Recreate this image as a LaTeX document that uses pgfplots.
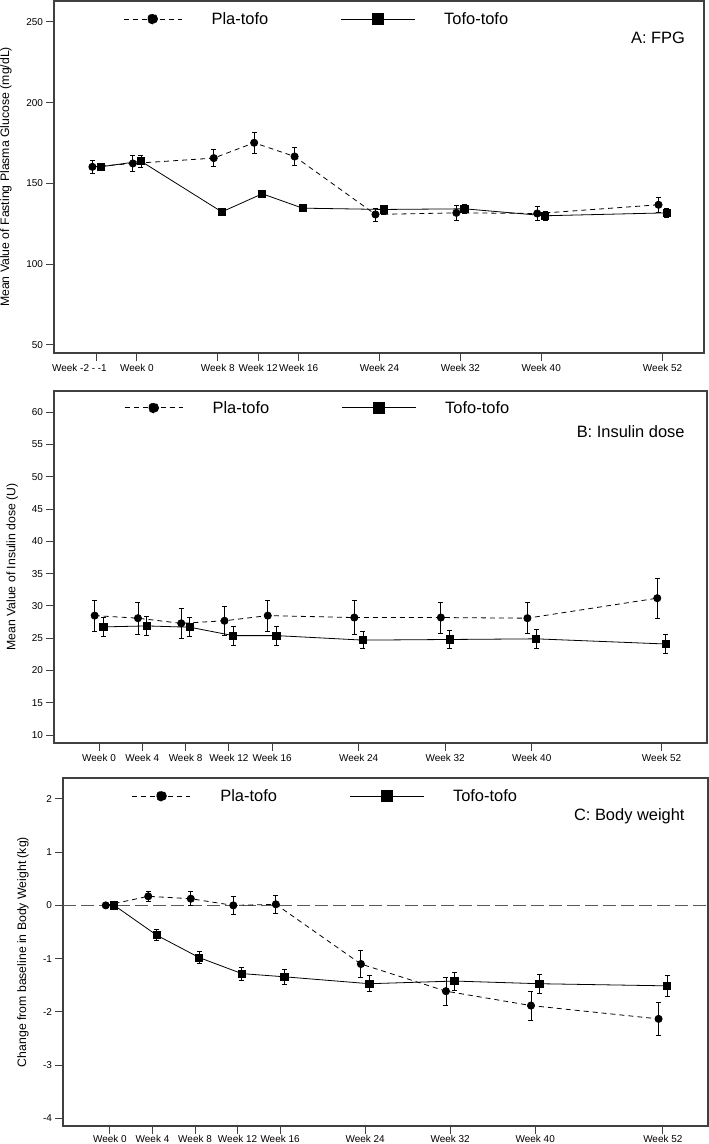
\documentclass[border=0pt]{standalone}
\usepackage{fontspec}
\setmainfont{Liberation Sans}
\usepackage{pgfplots}
\usepackage{pgfplotstable}
\pgfplotsset{compat=1.18}

% w = week (the -2 to -1 visit sits at -4), pla/tofo = mean, *e = error
\pgfplotstableread{
w   pla    plae  tofo   tofoe
-4  160.3  3.8   160.3  2.2
0   162.4  5.0   163.8  3.7
8   165.7  5.3   132.4  2.4
12  175.2  6.5   143.6  2.4
16  166.7  5.8   134.7  2.0
24  130.8  4.0   133.9  2.8
32  131.8  4.5   134.3  3.0
40  131.4  4.3   130.0  2.8
52  136.8  4.6   131.8  2.7
}\fpg

\pgfplotstableread{
w   pla    plae  tofo   tofoe
0   28.5   2.37  26.75  1.5
4   28.1   2.47  26.9   1.45
8   27.3   2.37  26.7   1.45
12  27.7   2.3   25.4   1.45
16  28.5   2.37  25.4   1.45
24  28.2   2.6   24.7   1.35
32  28.2   2.4   24.8   1.35
40  28.1   2.4   24.9   1.45
52  31.2   3.07  24.1   1.45
}\insulin

\pgfplotstableread{
w   pla    plae  tofo   tofoe
0   0.0    0.0   0.0    0.0
4   0.17   0.10  -0.56  0.10
8   0.125  0.13  -0.98  0.11
12  0.0    0.16  -1.28  0.12
16  0.02   0.17  -1.34  0.14
24  -1.10  0.25  -1.47  0.15
32  -1.61  0.26  -1.42  0.17
40  -1.88  0.27  -1.47  0.18
52  -2.13  0.31  -1.51  0.20
}\weight

\pgfplotsset{
  panel/.style={
    scale only axis, anchor=south west,
    axis line style={draw=black!75, line width=1.1bp},
    tick style={draw=black!75, line width=1bp},
    tick align=outside, tick pos=left, major tick length=7.5bp,
    tick label style={font=\fontsize{10}{12}\selectfont},
    /pgf/number format/assume math mode=true,
    ylabel style={font=\fontsize{12.3}{14}\selectfont, anchor=center},
    legend style={draw=none, fill=none, anchor=west, legend columns=2,
      font=\fontsize{16.5}{19}\selectfont, nodes={inner sep=0pt}, column sep=0pt},
  },
  errs/.style={
    error bars/y dir=both, error bars/y explicit,
    error bars/error bar style={solid, line width=0.8bp},
    error bars/error mark options={rotate=90, solid, line width=0.8bp, mark size=2.5bp}},
  pla/.style={black, line width=0.8bp, dash pattern=on 5bp off 4bp,
    mark=*, mark size=3.6bp, mark options={solid}, errs},
  tofo/.style={black, line width=0.8bp, solid,
    mark=square*, mark size=3.6bp, mark options={solid}, errs},
  plaleg/.style={legend image code/.code={
    \path[draw=none, fill=none] (0bp,-6bp) rectangle (88bp,6bp);
    \draw[black, line width=0.8bp, dash pattern=on 5bp off 4bp] (0bp,0bp) -- (58bp,0bp);
    \fill[black] (29bp,0bp) circle (5bp);}},
  tofoleg/.style={legend image code/.code={
    \path[draw=none, fill=none] (0bp,-6bp) rectangle (176bp,6bp);
    \draw[black, solid, line width=0.8bp] (73bp,0bp) -- (147bp,0bp);
    \fill[black] (104.5bp,-5.5bp) rectangle (115.5bp,5.5bp);}},
}

\begin{document}
\begin{tikzpicture}
\useasboundingbox (0,0) rectangle (709bp,-1144bp);

% ---- A: FPG
\begin{axis}[panel,
  at={(54bp,-353bp)}, width=650bp, height=352bp,
  xmin=-8.2, xmax=56.1, ymin=45, ymax=263,
  xtick={-4,0,8,12,16,24,32,40,52},
  xticklabels={\hspace*{-34bp}Week -2 - -1,Week 0,Week 8,Week 12,Week 16,Week 24,Week 32,Week 40,Week 52},
  ytick={50,100,150,200,250},
  ylabel={Mean Value of Fasting Plasma Glucose (mg/dL)},
  ylabel style={at={(axis description cs:-0.074,0.5)}},
  legend style={at={(axis description cs:0.1015,0.949)}},
]
\addplot[pla, plaleg] table[x expr=\thisrow{w}-0.4, y=pla, y error=plae] {\fpg};
\addlegendentry{Pla-tofo}
\addplot[tofo, tofoleg] table[x expr=\thisrow{w}+0.4, y=tofo, y error=tofoe] {\fpg};
\addlegendentry{Tofo-tofo}
\node[anchor=east, inner sep=0pt, font=\fontsize{16.5}{19}\selectfont] at (axis description cs:0.971,0.895) {A: FPG};
\end{axis}

% ---- B: Insulin dose
\begin{axis}[panel,
  at={(54bp,-743bp)}, width=653bp, height=352bp,
  xmin=-4.16, xmax=56.2, ymin=8.76, ymax=63.3,
  xtick={0,4,8,12,16,24,32,40,52},
  xticklabels={Week 0,Week 4,Week 8,Week 12,Week 16,Week 24,Week 32,Week 40,Week 52},
  ytick={10,15,...,60},
  ylabel={Mean Value of Insulin dose (U)},
  ylabel style={at={(axis description cs:-0.064,0.5)}},
  legend style={at={(axis description cs:0.1026,0.952)}},
]
\addplot[pla, plaleg] table[x expr=\thisrow{w}-0.4, y=pla, y error=plae] {\insulin};
\addlegendentry{Pla-tofo}
\addplot[tofo, tofoleg] table[x expr=\thisrow{w}+0.4, y=tofo, y error=tofoe] {\insulin};
\addlegendentry{Tofo-tofo}
\node[anchor=east, inner sep=0pt, font=\fontsize{16.5}{19}\selectfont] at (axis description cs:0.966,0.884) {B: Insulin dose};
\end{axis}

% ---- C: Body weight
\begin{axis}[panel,
  at={(63bp,-1126bp)}, width=645bp, height=348bp,
  xmin=-4.42, xmax=56.25, ymin=-4.14, ymax=2.39,
  xtick={0,4,8,12,16,24,32,40,52},
  xticklabels={Week 0,Week 4,Week 8,Week 12,Week 16,Week 24,Week 32,Week 40,Week 52},
  ytick={-4,-3,-2,-1,0,1,2},
  yticklabels={-4,-3,-2,-1,0,1,2},
  ylabel={Change from baseline in Body Weight (kg)},
  ylabel style={at={(axis description cs:-0.062,0.5)}},
  legend style={at={(axis description cs:0.102,0.948)}},
  xticklabel style={yshift=1.5bp},
]
\addplot[forget plot, black!65, line width=1bp, dash pattern=on 13bp off 5bp] coordinates {(-4.42,0) (56.25,0)};
\addplot[pla, plaleg] table[x expr=\thisrow{w}-0.4, y=pla, y error=plae] {\weight};
\addlegendentry{Pla-tofo}
\addplot[tofo, tofoleg] table[x expr=\thisrow{w}+0.4, y=tofo, y error=tofoe] {\weight};
\addlegendentry{Tofo-tofo}
\node[anchor=east, inner sep=0pt, font=\fontsize{16.5}{19}\selectfont] at (axis description cs:0.964,0.891) {C: Body weight};
\end{axis}
\end{tikzpicture}
\end{document}
